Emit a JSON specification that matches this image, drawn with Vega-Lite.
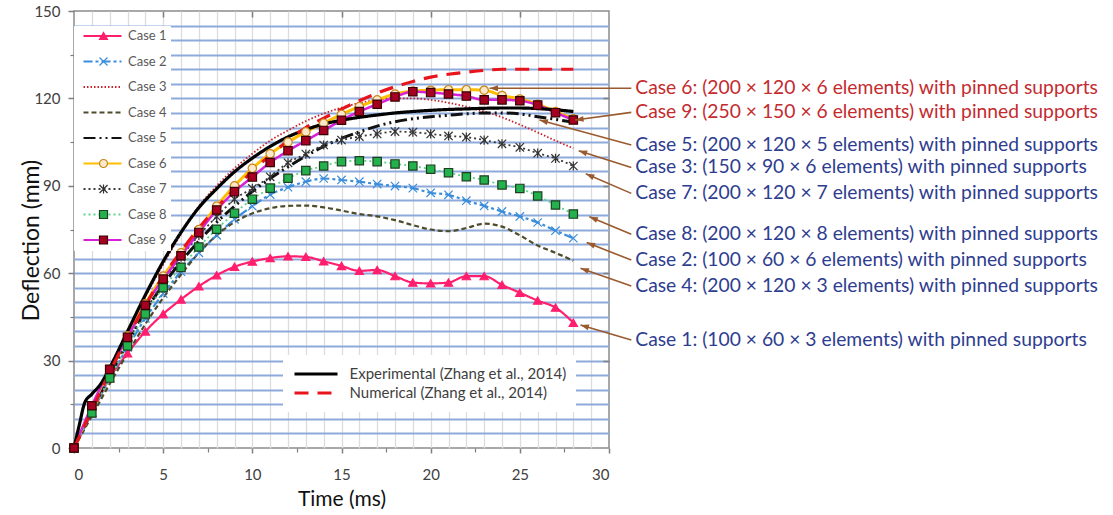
{
  "$schema": "https://vega.github.io/schema/vega-lite/v6.json",
  "width": 535,
  "height": 437,
  "autosize": {"type": "none"},
  "padding": {"left": 74, "top": 11, "right": 504, "bottom": 67},
  "background": "white",
  "config": {
    "font": "Lato",
    "view": {"stroke": "#8c8c8c", "strokeWidth": 1.5},
    "axis": {"labelFont": "Lato", "titleFont": "Lato", "labelColor": "#404040", "tickColor": "#7f7f7f", "domainColor": "#7f7f7f", "titleFontWeight": "normal", "titleColor": "#111111"},
    "legend": {"labelFont": "Lato"}
  },
  "datasets": {
    "curves": [
      {"s":"Case 1","t":0,"d":0},{"s":"Case 1","t":1,"d":12},{"s":"Case 1","t":2,"d":24},{"s":"Case 1","t":3,"d":32.5},{"s":"Case 1","t":4,"d":40},{"s":"Case 1","t":5,"d":46},{"s":"Case 1","t":6,"d":51},{"s":"Case 1","t":7,"d":55.5},{"s":"Case 1","t":8,"d":59.3},{"s":"Case 1","t":9,"d":62.2},{"s":"Case 1","t":10,"d":64},{"s":"Case 1","t":11,"d":65.2},{"s":"Case 1","t":12,"d":65.8},{"s":"Case 1","t":13,"d":65.6},{"s":"Case 1","t":14,"d":64.1},{"s":"Case 1","t":15,"d":62.5},{"s":"Case 1","t":16,"d":60.8},{"s":"Case 1","t":17,"d":61.1},{"s":"Case 1","t":18,"d":59},{"s":"Case 1","t":19,"d":56.8},{"s":"Case 1","t":20,"d":56.5},{"s":"Case 1","t":21,"d":56.8},{"s":"Case 1","t":22,"d":59},{"s":"Case 1","t":23,"d":59},{"s":"Case 1","t":24,"d":56},{"s":"Case 1","t":25,"d":53.3},{"s":"Case 1","t":26,"d":50.6},{"s":"Case 1","t":27,"d":48.2},{"s":"Case 1","t":28,"d":43},
      {"s":"Case 2","t":0,"d":0},{"s":"Case 2","t":1,"d":12},{"s":"Case 2","t":2,"d":24},{"s":"Case 2","t":3,"d":34.5},{"s":"Case 2","t":4,"d":44.5},{"s":"Case 2","t":5,"d":53},{"s":"Case 2","t":6,"d":60.5},{"s":"Case 2","t":7,"d":67},{"s":"Case 2","t":8,"d":73},{"s":"Case 2","t":9,"d":78.5},{"s":"Case 2","t":10,"d":83},{"s":"Case 2","t":11,"d":87},{"s":"Case 2","t":12,"d":89.5},{"s":"Case 2","t":13,"d":91.4},{"s":"Case 2","t":14,"d":92.5},{"s":"Case 2","t":15,"d":92},{"s":"Case 2","t":16,"d":91.4},{"s":"Case 2","t":17,"d":90.6},{"s":"Case 2","t":18,"d":89.9},{"s":"Case 2","t":19,"d":89.2},{"s":"Case 2","t":20,"d":87.6},{"s":"Case 2","t":21,"d":86.9},{"s":"Case 2","t":22,"d":84.9},{"s":"Case 2","t":23,"d":83.1},{"s":"Case 2","t":24,"d":81.2},{"s":"Case 2","t":25,"d":79.5},{"s":"Case 2","t":26,"d":77.4},{"s":"Case 2","t":27,"d":74.6},{"s":"Case 2","t":28,"d":72},
      {"s":"Case 3","t":0,"d":0},{"s":"Case 3","t":1,"d":14},{"s":"Case 3","t":2,"d":27.5},{"s":"Case 3","t":3,"d":40},{"s":"Case 3","t":4,"d":52},{"s":"Case 3","t":5,"d":63},{"s":"Case 3","t":6,"d":73.5},{"s":"Case 3","t":7,"d":83},{"s":"Case 3","t":8,"d":90},{"s":"Case 3","t":9,"d":96},{"s":"Case 3","t":10,"d":101},{"s":"Case 3","t":11,"d":105.5},{"s":"Case 3","t":12,"d":109},{"s":"Case 3","t":13,"d":112.2},{"s":"Case 3","t":14,"d":114.8},{"s":"Case 3","t":15,"d":116.8},{"s":"Case 3","t":16,"d":118.4},{"s":"Case 3","t":17,"d":119.5},{"s":"Case 3","t":18,"d":120},{"s":"Case 3","t":19,"d":120},{"s":"Case 3","t":20,"d":119.5},{"s":"Case 3","t":21,"d":118.5},{"s":"Case 3","t":22,"d":117.2},{"s":"Case 3","t":23,"d":115.5},{"s":"Case 3","t":24,"d":113.5},{"s":"Case 3","t":25,"d":111},{"s":"Case 3","t":26,"d":108.3},{"s":"Case 3","t":27,"d":105.5},{"s":"Case 3","t":28,"d":102.9},
      {"s":"Case 4","t":0,"d":0},{"s":"Case 4","t":1,"d":11},{"s":"Case 4","t":2,"d":22},{"s":"Case 4","t":3,"d":32.5},{"s":"Case 4","t":4,"d":42.5},{"s":"Case 4","t":5,"d":51.5},{"s":"Case 4","t":6,"d":59.5},{"s":"Case 4","t":7,"d":67},{"s":"Case 4","t":8,"d":73},{"s":"Case 4","t":9,"d":77.5},{"s":"Case 4","t":10,"d":80.5},{"s":"Case 4","t":11,"d":82.3},{"s":"Case 4","t":12,"d":83.1},{"s":"Case 4","t":13,"d":83.2},{"s":"Case 4","t":14,"d":82.6},{"s":"Case 4","t":15,"d":81.5},{"s":"Case 4","t":16,"d":80.3},{"s":"Case 4","t":17,"d":79.5},{"s":"Case 4","t":18,"d":78.2},{"s":"Case 4","t":19,"d":76.5},{"s":"Case 4","t":20,"d":75},{"s":"Case 4","t":21,"d":74.4},{"s":"Case 4","t":22,"d":75.5},{"s":"Case 4","t":23,"d":77},{"s":"Case 4","t":24,"d":76},{"s":"Case 4","t":25,"d":73},{"s":"Case 4","t":26,"d":69.5},{"s":"Case 4","t":27,"d":67},{"s":"Case 4","t":28,"d":64.3},
      {"s":"Case 5","t":0,"d":0},{"s":"Case 5","t":1,"d":13},{"s":"Case 5","t":2,"d":25},{"s":"Case 5","t":3,"d":36},{"s":"Case 5","t":4,"d":47},{"s":"Case 5","t":5,"d":56},{"s":"Case 5","t":6,"d":64},{"s":"Case 5","t":7,"d":71},{"s":"Case 5","t":8,"d":77.5},{"s":"Case 5","t":9,"d":83},{"s":"Case 5","t":10,"d":88},{"s":"Case 5","t":11,"d":92.5},{"s":"Case 5","t":12,"d":96.5},{"s":"Case 5","t":13,"d":100.2},{"s":"Case 5","t":14,"d":103.5},{"s":"Case 5","t":15,"d":106.3},{"s":"Case 5","t":16,"d":108.5},{"s":"Case 5","t":17,"d":110.5},{"s":"Case 5","t":18,"d":112},{"s":"Case 5","t":19,"d":113},{"s":"Case 5","t":20,"d":113.7},{"s":"Case 5","t":21,"d":114.2},{"s":"Case 5","t":22,"d":114.7},{"s":"Case 5","t":23,"d":115},{"s":"Case 5","t":24,"d":115},{"s":"Case 5","t":25,"d":114.7},{"s":"Case 5","t":26,"d":113.7},{"s":"Case 5","t":27,"d":112.8},{"s":"Case 5","t":28,"d":111.8},
      {"s":"Case 6","t":0,"d":0},{"s":"Case 6","t":1,"d":14},{"s":"Case 6","t":2,"d":27},{"s":"Case 6","t":3,"d":38.5},{"s":"Case 6","t":4,"d":49.5},{"s":"Case 6","t":5,"d":59},{"s":"Case 6","t":6,"d":67},{"s":"Case 6","t":7,"d":75},{"s":"Case 6","t":8,"d":83},{"s":"Case 6","t":9,"d":90},{"s":"Case 6","t":10,"d":96},{"s":"Case 6","t":11,"d":101},{"s":"Case 6","t":12,"d":105},{"s":"Case 6","t":13,"d":108.5},{"s":"Case 6","t":14,"d":111.5},{"s":"Case 6","t":15,"d":114.5},{"s":"Case 6","t":16,"d":117.2},{"s":"Case 6","t":17,"d":119.5},{"s":"Case 6","t":18,"d":121.5},{"s":"Case 6","t":19,"d":122.5},{"s":"Case 6","t":20,"d":122.8},{"s":"Case 6","t":21,"d":123},{"s":"Case 6","t":22,"d":123},{"s":"Case 6","t":23,"d":122.8},{"s":"Case 6","t":24,"d":121},{"s":"Case 6","t":25,"d":119.8},{"s":"Case 6","t":26,"d":118},{"s":"Case 6","t":27,"d":115.5},{"s":"Case 6","t":28,"d":113},
      {"s":"Case 7","t":0,"d":0},{"s":"Case 7","t":1,"d":12.5},{"s":"Case 7","t":2,"d":25},{"s":"Case 7","t":3,"d":36.5},{"s":"Case 7","t":4,"d":47},{"s":"Case 7","t":5,"d":57},{"s":"Case 7","t":6,"d":65.5},{"s":"Case 7","t":7,"d":73},{"s":"Case 7","t":8,"d":79.4},{"s":"Case 7","t":9,"d":85.4},{"s":"Case 7","t":10,"d":89.1},{"s":"Case 7","t":11,"d":93.1},{"s":"Case 7","t":12,"d":97.9},{"s":"Case 7","t":13,"d":100.9},{"s":"Case 7","t":14,"d":104},{"s":"Case 7","t":15,"d":105.7},{"s":"Case 7","t":16,"d":106.9},{"s":"Case 7","t":17,"d":107.8},{"s":"Case 7","t":18,"d":108.6},{"s":"Case 7","t":19,"d":108.4},{"s":"Case 7","t":20,"d":107.8},{"s":"Case 7","t":21,"d":107.1},{"s":"Case 7","t":22,"d":106.7},{"s":"Case 7","t":23,"d":105.7},{"s":"Case 7","t":24,"d":104.4},{"s":"Case 7","t":25,"d":103.2},{"s":"Case 7","t":26,"d":101.2},{"s":"Case 7","t":27,"d":99.4},{"s":"Case 7","t":28,"d":96.8},
      {"s":"Case 8","t":0,"d":0},{"s":"Case 8","t":1,"d":12},{"s":"Case 8","t":2,"d":24},{"s":"Case 8","t":3,"d":35},{"s":"Case 8","t":4,"d":46},{"s":"Case 8","t":5,"d":55},{"s":"Case 8","t":6,"d":62},{"s":"Case 8","t":7,"d":69},{"s":"Case 8","t":8,"d":75.1},{"s":"Case 8","t":9,"d":80.6},{"s":"Case 8","t":10,"d":85.4},{"s":"Case 8","t":11,"d":89.2},{"s":"Case 8","t":12,"d":92.6},{"s":"Case 8","t":13,"d":95.2},{"s":"Case 8","t":14,"d":96.8},{"s":"Case 8","t":15,"d":98.3},{"s":"Case 8","t":16,"d":98.6},{"s":"Case 8","t":17,"d":98.3},{"s":"Case 8","t":18,"d":97.5},{"s":"Case 8","t":19,"d":96.8},{"s":"Case 8","t":20,"d":95.7},{"s":"Case 8","t":21,"d":94.5},{"s":"Case 8","t":22,"d":93.1},{"s":"Case 8","t":23,"d":92},{"s":"Case 8","t":24,"d":90.3},{"s":"Case 8","t":25,"d":89.1},{"s":"Case 8","t":26,"d":86.5},{"s":"Case 8","t":27,"d":83.4},{"s":"Case 8","t":28,"d":80.3},
      {"s":"Case 9","t":0,"d":0},{"s":"Case 9","t":1,"d":14.5},{"s":"Case 9","t":2,"d":27},{"s":"Case 9","t":3,"d":38},{"s":"Case 9","t":4,"d":49},{"s":"Case 9","t":5,"d":58},{"s":"Case 9","t":6,"d":66},{"s":"Case 9","t":7,"d":74},{"s":"Case 9","t":8,"d":81.7},{"s":"Case 9","t":9,"d":88},{"s":"Case 9","t":10,"d":93},{"s":"Case 9","t":11,"d":98},{"s":"Case 9","t":12,"d":102},{"s":"Case 9","t":13,"d":105.5},{"s":"Case 9","t":14,"d":109},{"s":"Case 9","t":15,"d":112.5},{"s":"Case 9","t":16,"d":115.5},{"s":"Case 9","t":17,"d":118},{"s":"Case 9","t":18,"d":120.5},{"s":"Case 9","t":19,"d":122.3},{"s":"Case 9","t":20,"d":122},{"s":"Case 9","t":21,"d":121.5},{"s":"Case 9","t":22,"d":120.8},{"s":"Case 9","t":23,"d":119.5},{"s":"Case 9","t":24,"d":119.5},{"s":"Case 9","t":25,"d":119.2},{"s":"Case 9","t":26,"d":117.7},{"s":"Case 9","t":27,"d":115.1},{"s":"Case 9","t":28,"d":112.6},
      {"s":"Experimental (Zhang et al., 2014)","t":0,"d":0},{"s":"Experimental (Zhang et al., 2014)","t":0.3,"d":8},{"s":"Experimental (Zhang et al., 2014)","t":0.6,"d":15.5},{"s":"Experimental (Zhang et al., 2014)","t":1,"d":18.5},{"s":"Experimental (Zhang et al., 2014)","t":1.5,"d":22},{"s":"Experimental (Zhang et al., 2014)","t":2,"d":27.5},{"s":"Experimental (Zhang et al., 2014)","t":3,"d":40},{"s":"Experimental (Zhang et al., 2014)","t":4,"d":52.5},{"s":"Experimental (Zhang et al., 2014)","t":5,"d":64},{"s":"Experimental (Zhang et al., 2014)","t":6,"d":74},{"s":"Experimental (Zhang et al., 2014)","t":7,"d":82.5},{"s":"Experimental (Zhang et al., 2014)","t":8,"d":89},{"s":"Experimental (Zhang et al., 2014)","t":9,"d":94.8},{"s":"Experimental (Zhang et al., 2014)","t":10,"d":99.5},{"s":"Experimental (Zhang et al., 2014)","t":11,"d":103.5},{"s":"Experimental (Zhang et al., 2014)","t":12,"d":106.8},{"s":"Experimental (Zhang et al., 2014)","t":13,"d":109.3},{"s":"Experimental (Zhang et al., 2014)","t":14,"d":111.2},{"s":"Experimental (Zhang et al., 2014)","t":15,"d":112.5},{"s":"Experimental (Zhang et al., 2014)","t":16,"d":113.5},{"s":"Experimental (Zhang et al., 2014)","t":17,"d":114.3},{"s":"Experimental (Zhang et al., 2014)","t":18,"d":115},{"s":"Experimental (Zhang et al., 2014)","t":19,"d":115.5},{"s":"Experimental (Zhang et al., 2014)","t":20,"d":115.9},{"s":"Experimental (Zhang et al., 2014)","t":21,"d":116.2},{"s":"Experimental (Zhang et al., 2014)","t":22,"d":116.4},{"s":"Experimental (Zhang et al., 2014)","t":23,"d":116.6},{"s":"Experimental (Zhang et al., 2014)","t":24,"d":116.7},{"s":"Experimental (Zhang et al., 2014)","t":25,"d":116.7},{"s":"Experimental (Zhang et al., 2014)","t":26,"d":116.5},{"s":"Experimental (Zhang et al., 2014)","t":27,"d":116.1},{"s":"Experimental (Zhang et al., 2014)","t":28,"d":115.5},
      {"s":"Numerical (Zhang et al., 2014)","t":0,"d":0},{"s":"Numerical (Zhang et al., 2014)","t":1,"d":13},{"s":"Numerical (Zhang et al., 2014)","t":2,"d":26},{"s":"Numerical (Zhang et al., 2014)","t":3,"d":38},{"s":"Numerical (Zhang et al., 2014)","t":4,"d":49},{"s":"Numerical (Zhang et al., 2014)","t":5,"d":59},{"s":"Numerical (Zhang et al., 2014)","t":6,"d":67.5},{"s":"Numerical (Zhang et al., 2014)","t":7,"d":75.5},{"s":"Numerical (Zhang et al., 2014)","t":8,"d":82.5},{"s":"Numerical (Zhang et al., 2014)","t":9,"d":88.8},{"s":"Numerical (Zhang et al., 2014)","t":10,"d":95},{"s":"Numerical (Zhang et al., 2014)","t":11,"d":100.5},{"s":"Numerical (Zhang et al., 2014)","t":12,"d":105.5},{"s":"Numerical (Zhang et al., 2014)","t":13,"d":110},{"s":"Numerical (Zhang et al., 2014)","t":14,"d":113.2},{"s":"Numerical (Zhang et al., 2014)","t":15,"d":116.3},{"s":"Numerical (Zhang et al., 2014)","t":16,"d":119.2},{"s":"Numerical (Zhang et al., 2014)","t":17,"d":121.8},{"s":"Numerical (Zhang et al., 2014)","t":18,"d":124},{"s":"Numerical (Zhang et al., 2014)","t":19,"d":125.8},{"s":"Numerical (Zhang et al., 2014)","t":20,"d":127.3},{"s":"Numerical (Zhang et al., 2014)","t":21,"d":128.3},{"s":"Numerical (Zhang et al., 2014)","t":22,"d":129},{"s":"Numerical (Zhang et al., 2014)","t":23,"d":129.6},{"s":"Numerical (Zhang et al., 2014)","t":24,"d":130},{"s":"Numerical (Zhang et al., 2014)","t":25,"d":130},{"s":"Numerical (Zhang et al., 2014)","t":26,"d":130},{"s":"Numerical (Zhang et al., 2014)","t":27,"d":130},{"s":"Numerical (Zhang et al., 2014)","t":28,"d":130}
    ],
    "notes": [
      {"s":"Case 6","label":"Case 6: (200 × 120 × 6 elements) with pinned supports","group":"highlighted","lx":31.25,"ly":123.5,"hx":23.3,"hy":123.5},
      {"s":"Case 9","label":"Case 9: (250 × 150 × 6 elements) with pinned supports","group":"highlighted","lx":31.25,"ly":115.2,"hx":28.1,"hy":112.6},
      {"s":"Case 5","label":"Case 5: (200 × 120 × 5 elements) with pinned supports","group":"other","lx":31.25,"ly":104.0,"hx":26.1,"hy":112.6},
      {"s":"Case 3","label":"Case 3: (150 × 90 × 6 elements) with pinned supports","group":"other","lx":31.25,"ly":96.3,"hx":28.3,"hy":102.0},
      {"s":"Case 7","label":"Case 7: (200 × 120 × 7 elements) with pinned supports","group":"other","lx":31.25,"ly":87.4,"hx":28.7,"hy":94.1},
      {"s":"Case 8","label":"Case 8: (200 × 120 × 8 elements) with pinned supports","group":"other","lx":31.25,"ly":73.4,"hx":28.9,"hy":79.4},
      {"s":"Case 2","label":"Case 2: (100 × 60 × 6 elements) with pinned supports","group":"other","lx":31.25,"ly":64.5,"hx":28.75,"hy":70.5},
      {"s":"Case 4","label":"Case 4: (200 × 120 × 3 elements) with pinned supports","group":"other","lx":31.25,"ly":55.6,"hx":28.4,"hy":61.7},
      {"s":"Case 1","label":"Case 1: (100 × 60 × 3 elements) with pinned supports","group":"other","lx":31.25,"ly":37.1,"hx":28.4,"hy":42.2}
    ]
  },
  "layer": [
    {
      "data": {"name": "curves"},
      "transform": [{"filter": {"field": "s", "oneOf": ["Case 1","Case 2","Case 3","Case 4","Case 5","Case 6","Case 7","Case 8","Case 9"]}}],
      "mark": {"type": "line", "interpolate": "monotone",
               "strokeWidth": {"expr": "datum.s == 'Case 5' || datum.s == 'Case 6' ? 3 : datum.s == 'Case 9' ? 2.5 : datum.s == 'Case 3' || datum.s == 'Case 7' || datum.s == 'Case 8' ? 1.8 : 2.2"}},
      "encoding": {
        "x": {"field": "t", "type": "quantitative", "scale": {"domain": [0, 30], "nice": false, "zero": false},
              "axis": {"orient": "bottom", "values": [0,5,10,15,20,25,30], "format": "d", "grid": false, "domain": false, "tickSize": 5, "tickWidth": 1.5, "labelFontSize": 15, "labelPadding": 14, "title": "Time (ms)", "titleFontSize": 21, "titlePadding": 6}},
        "y": {"field": "d", "type": "quantitative", "scale": {"domain": [0, 150], "nice": false},
              "axis": {"orient": "left", "values": [0,30,60,90,120,150], "format": "d", "grid": false, "domain": false, "tickSize": 6, "tickWidth": 1.5, "labelFontSize": 15, "labelPadding": 8, "title": "Deflection (mm)", "titleFontSize": 23, "titleX": -43, "titleY": 229, "titleAngle": -90, "titleAlign": "center", "titleBaseline": "middle"}},
        "color": {"field": "s", "type": "nominal",
                  "scale": {"domain": ["Case 1","Case 2","Case 3","Case 4","Case 5","Case 6","Case 7","Case 8","Case 9"], "range": ["#FF1F6E","#3A8DDB","#C8202A","#4E4B2B","#111111","#FFBE00","#3A3A3A","#5ED38A","#D81FD8"]},
                  "legend": {"orient": "none", "legendX": 0, "legendY": 15, "zindex": 5, "direction": "vertical", "title": null, "fillColor": "#ffffff", "strokeColor": "#ffffff", "padding": 3, "symbolType": "stroke", "symbolSize": 1444, "symbolOffset": 5, "symbolStrokeWidth": 2.2, "clipHeight": 14, "rowPadding": 11.5, "labelFontSize": 13, "labelColor": "#595959", "labelOffset": 5}},
        "strokeDash": {"field": "s", "type": "nominal",
                  "scale": {"domain": ["Case 1","Case 2","Case 3","Case 4","Case 5","Case 6","Case 7","Case 8","Case 9"], "range": [[1,0],[9,3,3,3],[1.5,2],[5,3],[12,4,2,4,2,4],[1,0],[2,3],[2,3],[1,0]]},
                  "legend": {"orient": "none", "legendX": 0, "legendY": 15, "zindex": 5, "direction": "vertical", "title": null, "fillColor": "#ffffff", "strokeColor": "#ffffff", "padding": 3, "symbolType": "stroke", "symbolSize": 1444, "symbolOffset": 5, "symbolStrokeWidth": 2.2, "clipHeight": 14, "rowPadding": 11.5, "labelFontSize": 13, "labelColor": "#595959", "labelOffset": 5}}
      }
    },
    {
      "data": {"name": "curves"},
      "transform": [{"filter": {"field": "s", "oneOf": ["Experimental (Zhang et al., 2014)", "Numerical (Zhang et al., 2014)"]}}],
      "mark": {"type": "line", "interpolate": "monotone", "strokeWidth": 3.2},
      "encoding": {
        "x": {"field": "t", "type": "quantitative",
              "axis": {"orient": "top", "values": [5,10,15,20,25], "labels": false, "domain": false, "grid": false, "tickSize": -6, "tickWidth": 1.5, "title": null}},
        "y": {"field": "d", "type": "quantitative",
              "axis": {"orient": "right", "values": [30,60,90,120], "labels": false, "domain": false, "grid": false, "tickSize": -6, "tickWidth": 1.5, "title": null}},
        "color": {"field": "s", "type": "nominal",
                  "scale": {"domain": ["Experimental (Zhang et al., 2014)", "Numerical (Zhang et al., 2014)"], "range": ["#000000", "#E8141C"]},
                  "legend": {"orient": "none", "legendX": 209, "legendY": 344, "zindex": 5, "direction": "vertical", "title": null, "fillColor": "#ffffff", "padding": 9.5, "symbolType": "stroke", "symbolSize": 1849, "symbolStrokeWidth": 3.2, "clipHeight": 19, "rowPadding": 0, "labelFontSize": 15, "labelLimit": 400, "labelColor": "#404040", "labelOffset": 10}},
        "strokeDash": {"field": "s", "type": "nominal",
                  "scale": {"domain": ["Experimental (Zhang et al., 2014)", "Numerical (Zhang et al., 2014)"], "range": [[1,0],[14,9]]},
                  "legend": {"orient": "none", "legendX": 209, "legendY": 344, "zindex": 5, "direction": "vertical", "title": null, "fillColor": "#ffffff", "padding": 9.5, "symbolType": "stroke", "symbolSize": 1849, "symbolStrokeWidth": 3.2, "clipHeight": 19, "rowPadding": 0, "labelFontSize": 15, "labelLimit": 400, "labelColor": "#404040", "labelOffset": 10}}
      }
    },
    {
      "data": {"name": "curves"},
      "transform": [{"filter": {"field": "s", "oneOf": ["Case 1","Case 2","Case 3","Case 4","Case 5","Case 6","Case 7","Case 8","Case 9"]}}],
      "mark": {"type": "point", "filled": true, "size": 70, "strokeWidth": 1.2, "opacity": 1},
      "encoding": {
        "x": {"field": "t", "type": "quantitative",
              "axis": {"orient": "bottom", "values": [1,2,3,4,5,6,7,8,9,10,11,12,13,14,15,16,17,18,19,20,21,22,23,24,25,26,27,28,29], "grid": true, "gridColor": "#dcdcdc", "gridWidth": 1.3, "labels": false, "ticks": false, "domain": false, "title": null}},
        "y": {"field": "d", "type": "quantitative",
              "axis": {"orient": "left", "values": [5,10,15,20,25,30,35,40,45,50,55,60,65,70,75,80,85,90,95,100,105,110,115,120,125,130,135,140,145], "grid": true, "gridColor": "#8eaadb", "gridWidth": 2, "labels": false, "ticks": false, "domain": false, "title": null}},
        "shape": {"field": "s", "type": "nominal",
                  "scale": {"range": ["triangle-up", "M-1,-1L1,1M-1,1L1,-1", "M0,0", "M0,0", "M0,0", "circle", "M-1,-1L1,1M-1,1L1,-1M0,-1.1L0,1.1", "square", "square"]},
                  "legend": {"orient": "none", "legendX": 0, "legendY": 15, "zindex": 6, "direction": "vertical", "title": null, "padding": 3, "symbolSize": 64, "symbolOffset": 20, "symbolStrokeWidth": 1.2, "clipHeight": 14, "rowPadding": 11.5, "labelFontSize": 13, "labelExpr": "''"}},
        "fill": {"field": "s", "type": "nominal",
                  "scale": {"range": ["#FF1F6E", "#3A8DDB", "transparent", "transparent", "transparent", "#FBE9CC", "#333333", "#22B14C", "#A50021"]},
                  "legend": {"orient": "none", "legendX": 0, "legendY": 15, "zindex": 6, "direction": "vertical", "title": null, "padding": 3, "symbolSize": 64, "symbolOffset": 20, "symbolStrokeWidth": 1.2, "clipHeight": 14, "rowPadding": 11.5, "labelFontSize": 13, "labelExpr": "''"}},
        "stroke": {"field": "s", "type": "nominal",
                  "scale": {"range": ["#FF1F6E", "#3A8DDB", "transparent", "transparent", "transparent", "#C8861A", "#333333", "#1E3F20", "#3A0000"]},
                  "legend": {"orient": "none", "legendX": 0, "legendY": 15, "zindex": 6, "direction": "vertical", "title": null, "padding": 3, "symbolSize": 64, "symbolOffset": 20, "symbolStrokeWidth": 1.2, "clipHeight": 14, "rowPadding": 11.5, "labelFontSize": 13, "labelExpr": "''"}}
      }
    },
    {
      "data": {"name": "notes"},
      "mark": {"type": "rule", "color": "#9A5A2E", "strokeWidth": 1.6},
      "encoding": {
        "x": {"field": "lx", "type": "quantitative",
              "axis": {"orient": "bottom", "values": [2.5,7.5,12.5,17.5,22.5,27.5], "labels": false, "domain": false, "grid": false, "tickSize": 4, "tickWidth": 1.2, "title": null}},
        "y": {"field": "ly", "type": "quantitative",
              "axis": {"orient": "left", "values": [15,45,75,105,135], "labels": false, "domain": false, "grid": false, "tickSize": 4, "tickWidth": 1.2, "title": null}},
        "x2": {"field": "hx"},
        "y2": {"field": "hy"}
      }
    },
    {
      "data": {"name": "notes"},
      "mark": {"type": "point", "filled": true, "opacity": 1, "color": "#9A5A2E", "size": 72, "shape": "M0,0L2,-0.7L2,0.7Z",
               "angle": {"expr": "atan2(scale('y', datum.hy) - scale('y', datum.ly), scale('x', datum.hx) - scale('x', datum.lx)) * 180 / PI + 180"}},
      "encoding": {
        "x": {"field": "hx", "type": "quantitative", "axis": null},
        "y": {"field": "hy", "type": "quantitative", "axis": null}
      }
    },
    {
      "data": {"name": "notes"},
      "mark": {"type": "text", "align": "left", "baseline": "middle", "font": "Lato", "fontSize": 19.3, "dx": 4},
      "encoding": {
        "x": {"field": "lx", "type": "quantitative", "axis": null},
        "y": {"field": "ly", "type": "quantitative", "axis": null},
        "text": {"field": "label"},
        "color": {"field": "group", "type": "nominal", "scale": {"domain": ["highlighted", "other"], "range": ["#C42B2F", "#2E3D8F"]}, "legend": null}
      }
    }
  ],
  "resolve": {
    "scale": {"color": "independent", "strokeDash": "independent"},
    "axis": {"x": "independent", "y": "independent"}
  }
}
